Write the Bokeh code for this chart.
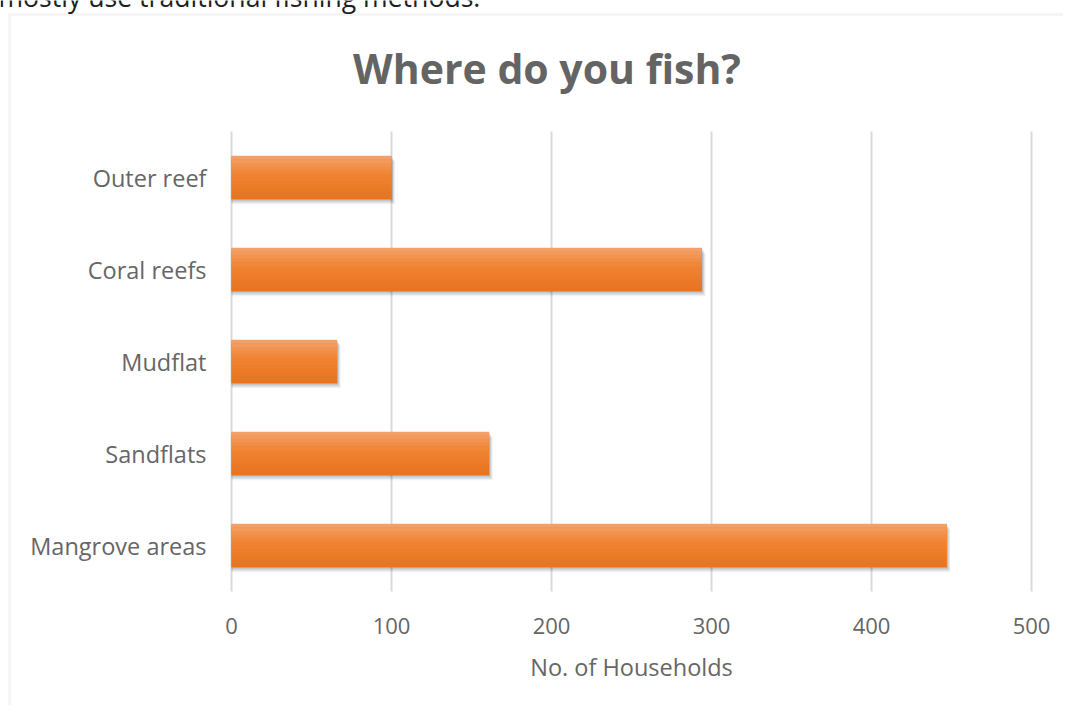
from bokeh.plotting import figure
from bokeh.models import Range1d, Label, BoxAnnotation, FixedTicker, ColumnDataSource, LinearAxis
from bokeh.embed import file_html
from bokeh.resources import INLINE

categories = ["Outer reef", "Coral reefs", "Mudflat", "Sandflats", "Mangrove areas"]
households = [100, 294, 66, 161, 447]
x_ticks = [0, 100, 200, 300, 400, 500]
title_text = "Where do you fish?"
x_title = "No. of Households"
page_text = "mostly use traditional fishing methods."

FONT = "Open Sans"
W, H = 1063, 705

# layout (pixels) of the plot area inside the canvas
PX_LEFT, PX_RIGHT = 231, 1031      # x=0 and x=500
PX_TOP, PX_BOTTOM = 131, 591       # top / bottom of category band
n = len(categories)
pos = list(range(n))[::-1]          # Outer reef at top
xmin, xmax = x_ticks[0], x_ticks[-1]
xs = (PX_RIGHT - PX_LEFT) / (xmax - xmin)
ys = (PX_BOTTOM - PX_TOP) / n
x_range = Range1d(xmin - PX_LEFT / xs, xmax + (W - PX_RIGHT) / xs)
y_range = Range1d(-0.5 - (H - PX_BOTTOM) / ys, n - 0.5 + PX_TOP / ys)

src = ColumnDataSource(dict(pos=pos, val=households))

p = figure(width=W, height=H, output_backend="svg", toolbar_location=None,
           x_range=x_range, y_range=y_range, x_axis_type=None, y_axis_type=None,
           title_location=None, min_border=0, min_border_left=0, min_border_right=0,
           min_border_top=0, min_border_bottom=0)
p.outline_line_color = None
p.background_fill_color = "white"
p.border_fill_color = "white"
p.grid.visible = False

# chart box border (top and left edges visible)
box = BoxAnnotation(left=9, right=5000, top=H - 14, bottom=-5000,
                    left_units="screen", right_units="screen", top_units="screen", bottom_units="screen",
                    fill_color=None, line_color="#d9d9d9", line_width=2.5, level="underlay")
p.add_layout(box)

# vertical gridlines over the category band
p.segment(x0=x_ticks, x1=x_ticks, y0=-0.5, y1=n - 0.5, line_color="#d9d9d9", line_width=2)

BH = 0.467
# soft shadow
for k, a in [(1, 0.11), (2, 0.09), (3, 0.07), (4, 0.05)]:
    p.hbar(y=[v - k * 1.3 / ys for v in pos], left=0,
           right=[v + k * 0.9 / xs for v in households], height=BH,
           fill_color="black", fill_alpha=a, line_color=None)

# bars with vertical gradient
p.hbar(y="pos", left=0, right="val", height=BH, source=src, fill_color="#EF812F", line_color=None)
top_c, mid_c, bot_c = (243, 160, 104), (240, 132, 52), (232, 116, 31)
NB = 12
for i in range(NB):
    t = i / (NB - 1)
    if t < 0.4:
        u = t / 0.4
        c = tuple(round(top_c[j] + (mid_c[j] - top_c[j]) * u) for j in range(3))
    else:
        u = (t - 0.4) / 0.6
        c = tuple(round(mid_c[j] + (bot_c[j] - mid_c[j]) * u) for j in range(3))
    off = BH / 2 - (i + 0.5) * BH / NB
    p.hbar(y=[v + off for v in pos], left=0, right=households, height=BH / NB + 0.004,
           fill_color="#%02x%02x%02x" % c, line_color=None)

# axes fixed inside the canvas
xaxis = LinearAxis(fixed_location=-0.5, ticker=FixedTicker(ticks=x_ticks))
yaxis = LinearAxis(fixed_location=0, ticker=FixedTicker(ticks=pos),
                   major_label_overrides={p_: c for p_, c in zip(pos, categories)})
p.add_layout(xaxis, "below")
p.add_layout(yaxis, "left")

for ax in (xaxis, yaxis):
    ax.axis_line_color = None
    ax.major_tick_line_color = None
    ax.minor_tick_line_color = None
    ax.major_tick_out = 0
    ax.major_tick_in = 0
    ax.major_label_text_font = FONT
    ax.major_label_text_color = "#666666"
xaxis.major_label_text_font_size = "22px"
yaxis.major_label_text_font_size = "23.5px"
xaxis.major_label_standoff = 26
yaxis.major_label_standoff = 25

BL = 0.38  # baseline correction (em) for alphabetic labels


def put(text, x, baseline_y, size, **kw):
    lbl = Label(x=x, y=H - baseline_y + BL * size, x_units="screen", y_units="screen", text=text,
                text_font=FONT, text_font_size=f"{size}px", text_baseline="alphabetic", **kw)
    p.add_layout(lbl)


put(x_title, (PX_LEFT + PX_RIGHT) / 2, 675.7, 23.5, text_color="#666666", text_align="center")
put(title_text, 546.5, 82.7, 41, text_color="#646464", text_align="center", text_font_style="bold")
put(page_text, -2, 6.8, 26.6, text_color="#1e1e1e")

open("out.html", "w").write(file_html(p, INLINE))
